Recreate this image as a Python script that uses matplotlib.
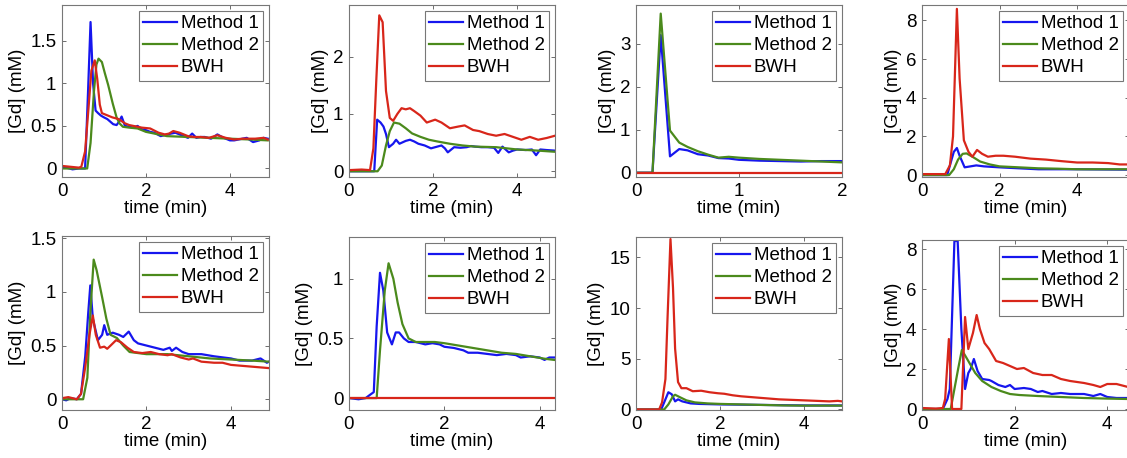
import matplotlib
matplotlib.use("Agg")
import matplotlib.pyplot as plt

plt.rcParams['font.family'] = ['Liberation Sans', 'DejaVu Sans']
FS = 13.5
plt.rcParams['font.size'] = FS

C_BLUE = '#1616ee'
C_GREEN = '#4b8a1c'
C_RED = '#d8261a'

# ---------------- Panel 1 ----------------
p1_m1_t = [0, 0.1, 0.25, 0.4, 0.55, 0.62, 0.68, 0.74, 0.8, 0.86, 0.93, 1.0, 1.08, 1.15, 1.22, 1.3, 1.36, 1.42, 1.5, 1.6, 1.7, 1.8, 1.9, 2.0, 2.1, 2.2, 2.35, 2.5, 2.6, 2.7, 2.8, 2.9, 3.0, 3.1, 3.2, 3.3, 3.4, 3.55, 3.7, 3.85, 4.0, 4.1, 4.2, 4.3, 4.4, 4.55, 4.7, 4.8, 4.9]
p1_m1_y = [0.02, 0.01, -0.01, 0.0, 0.0, 0.9, 1.72, 1.0, 0.68, 0.65, 0.62, 0.6, 0.58, 0.55, 0.52, 0.51, 0.55, 0.61, 0.5, 0.49, 0.48, 0.5, 0.46, 0.45, 0.43, 0.42, 0.38, 0.4, 0.41, 0.42, 0.4, 0.38, 0.36, 0.41, 0.36, 0.37, 0.37, 0.35, 0.4, 0.36, 0.33, 0.33, 0.34, 0.35, 0.36, 0.31, 0.33, 0.36, 0.35]
p1_m2_t = [0, 0.6, 0.68, 0.76, 0.82, 0.87, 0.95, 1.02, 1.1, 1.21, 1.3, 1.37, 1.45, 1.6, 1.8, 2.0, 2.3, 2.5, 3.0, 3.5, 4.0, 4.5, 4.9]
p1_m2_y = [0.0, 0.0, 0.3, 0.9, 1.22, 1.29, 1.25, 1.12, 0.98, 0.76, 0.6, 0.53, 0.49, 0.48, 0.47, 0.43, 0.4, 0.38, 0.37, 0.36, 0.35, 0.34, 0.33]
p1_bw_t = [0, 0.2, 0.4, 0.46, 0.55, 0.63, 0.7, 0.78, 0.84, 0.9, 0.95, 1.05, 1.2, 1.35, 1.5, 1.6, 1.7, 1.9, 2.1, 2.3, 2.45, 2.55, 2.65, 2.8, 2.9, 3.0, 3.15, 3.3, 3.5, 3.7, 3.9, 4.1, 4.3, 4.6, 4.8, 4.9]
p1_bw_y = [0.03, 0.02, 0.01, 0.02, 0.2, 0.7, 1.15, 1.27, 1.05, 0.75, 0.65, 0.63, 0.6, 0.58, 0.53, 0.51, 0.5, 0.48, 0.47, 0.42, 0.4, 0.41, 0.44, 0.42, 0.4, 0.38, 0.37, 0.37, 0.36, 0.39, 0.36, 0.34, 0.35, 0.35, 0.36, 0.34]

# ---------------- Panel 2 ----------------
p2_m1_t = [0, 0.3, 0.6, 0.67, 0.75, 0.82, 0.88, 0.95, 1.05, 1.12, 1.2, 1.35, 1.45, 1.55, 1.65, 1.8, 1.95, 2.1, 2.2, 2.28, 2.35, 2.5, 2.65, 2.8, 2.9, 3.0, 3.15, 3.3, 3.45, 3.55, 3.65, 3.8, 3.9, 4.0, 4.2, 4.35, 4.45, 4.55, 4.7, 4.9]
p2_m1_y = [0.0, 0.0, 0.0, 0.9, 0.85, 0.78, 0.65, 0.42, 0.48, 0.55, 0.48, 0.53, 0.55, 0.52, 0.48, 0.45, 0.4, 0.43, 0.45, 0.4, 0.33, 0.42, 0.41, 0.42, 0.44, 0.43, 0.42, 0.42, 0.41, 0.32, 0.43, 0.33, 0.36, 0.38, 0.37, 0.38, 0.28, 0.38, 0.37, 0.36]
p2_m2_t = [0, 0.68, 0.78, 0.88, 0.97, 1.07, 1.2, 1.35, 1.5, 1.7, 1.9, 2.1, 2.4, 2.7, 3.0, 3.5, 4.0, 4.5, 4.9]
p2_m2_y = [0.0, 0.0, 0.1, 0.45, 0.7, 0.85, 0.83, 0.75, 0.66, 0.6, 0.55, 0.52, 0.48, 0.45, 0.43, 0.42, 0.38, 0.36, 0.34]
p2_bw_t = [0, 0.3, 0.5, 0.58, 0.65, 0.72, 0.8, 0.88, 0.97, 1.05, 1.15, 1.25, 1.35, 1.45, 1.55, 1.7, 1.85, 2.05, 2.2, 2.4, 2.6, 2.75, 2.95, 3.1, 3.3, 3.5, 3.7, 3.9, 4.1, 4.3, 4.5, 4.7, 4.9]
p2_bw_y = [0.02, 0.03, 0.02, 0.4, 1.6, 2.72, 2.6, 1.4, 0.93, 0.88, 1.0, 1.1, 1.08, 1.1, 1.05, 0.97, 0.85, 0.9, 0.85, 0.75, 0.78, 0.8, 0.72, 0.7, 0.65, 0.62, 0.65, 0.6, 0.55, 0.6, 0.55, 0.58, 0.62]

# ---------------- Panel 3 ----------------
p3_m1_t = [0, 0.16, 0.24, 0.33, 0.42, 0.5, 0.6, 0.7, 0.8, 0.9, 1.0, 1.2, 1.4, 1.6, 1.8, 2.0]
p3_m1_y = [0.0, 0.0, 3.2, 0.38, 0.55, 0.52, 0.43, 0.4, 0.34, 0.33, 0.3, 0.28, 0.27, 0.26, 0.27, 0.27]
p3_m2_t = [0, 0.16, 0.24, 0.33, 0.42, 0.5, 0.6, 0.7, 0.8, 0.9, 1.0, 1.2, 1.4, 1.6, 1.8, 2.0]
p3_m2_y = [0.0, 0.0, 3.7, 0.98, 0.7, 0.6, 0.5, 0.42, 0.35, 0.37, 0.35, 0.32, 0.3, 0.28, 0.26, 0.24]
p3_bw_t = [0, 2.0]
p3_bw_y = [0.0, 0.0]

# ---------------- Panel 4 ----------------
p4_m1_t = [0, 0.65, 0.72, 0.82, 0.9, 0.97, 1.1, 1.25, 1.4, 1.6, 2.0, 2.5, 3.0, 4.0, 5.3]
p4_m1_y = [0.0, 0.0, 0.5, 1.2, 1.4, 1.0, 0.4, 0.45, 0.5, 0.45, 0.4, 0.35, 0.3, 0.3, 0.28]
p4_m2_t = [0, 0.7, 0.82, 0.93, 1.05, 1.15, 1.3, 1.5, 1.75, 2.0, 2.5, 3.0, 3.5, 4.0, 5.3]
p4_m2_y = [0.0, 0.0, 0.3, 0.8, 1.1, 1.12, 0.95, 0.7, 0.55, 0.45, 0.4, 0.35, 0.33, 0.3, 0.3]
p4_bw_t = [0, 0.6, 0.72, 0.8, 0.9, 0.97, 1.08, 1.2, 1.3, 1.42, 1.55, 1.7, 1.9, 2.1, 2.4, 2.8, 3.2, 3.6, 4.0, 4.4, 4.8, 5.1, 5.3]
p4_bw_y = [0.05, 0.05, 0.5, 2.0, 8.6, 5.0, 1.8, 1.2, 0.95, 1.3, 1.1, 0.95, 1.0, 1.0, 0.95, 0.85, 0.8, 0.72, 0.65, 0.65, 0.62, 0.55, 0.55]

# ---------------- Panel 5 ----------------
p5_m1_t = [0, 0.1, 0.2, 0.35, 0.45, 0.55, 0.62, 0.67, 0.73, 0.85, 0.95, 1.0, 1.07, 1.2, 1.35, 1.45, 1.58, 1.7, 1.8, 2.0, 2.2, 2.4, 2.55, 2.6, 2.7, 2.85, 3.0, 3.3, 3.6, 3.8, 4.0, 4.2, 4.5, 4.7, 4.85, 4.9]
p5_m1_y = [0.0, -0.01, 0.01, 0.0, 0.05, 0.4, 0.8, 1.06, 0.75, 0.55, 0.6, 0.69, 0.6, 0.62, 0.6, 0.58, 0.63, 0.55, 0.52, 0.5, 0.48, 0.46, 0.48, 0.45, 0.48, 0.44, 0.42, 0.42, 0.4, 0.39, 0.38, 0.36, 0.36, 0.38, 0.34, 0.35]
p5_m2_t = [0, 0.5, 0.6, 0.67, 0.75, 0.82, 0.95, 1.05, 1.15, 1.3, 1.45, 1.6, 1.8, 2.0, 2.5, 3.0, 3.5, 4.0, 4.5, 4.9]
p5_m2_y = [0.0, 0.0, 0.2, 0.8, 1.3, 1.2, 0.95, 0.75, 0.6, 0.57, 0.5, 0.44, 0.43, 0.42, 0.42, 0.4, 0.38, 0.37, 0.36, 0.35]
p5_bw_t = [0, 0.15, 0.35, 0.45, 0.55, 0.65, 0.73, 0.8, 0.9, 1.0, 1.07, 1.15, 1.28, 1.4, 1.55, 1.7, 1.9, 2.1, 2.3, 2.5, 2.6, 2.8, 3.0, 3.1, 3.3, 3.6, 3.8, 4.0, 4.3, 4.6, 4.9]
p5_bw_y = [0.01, 0.02, 0.0, 0.05, 0.3, 0.6, 0.78, 0.6, 0.48, 0.49, 0.47, 0.5, 0.55, 0.53, 0.48, 0.44, 0.43, 0.44, 0.42, 0.41, 0.42, 0.39, 0.37, 0.38, 0.35, 0.34, 0.34, 0.32, 0.31, 0.3, 0.29]

# ---------------- Panel 6 ----------------
p6_m1_t = [0, 0.2, 0.35, 0.45, 0.52, 0.58, 0.65, 0.72, 0.8, 0.9, 0.98, 1.05, 1.15, 1.25, 1.4, 1.6, 1.75, 1.9, 2.0, 2.2, 2.4, 2.5, 2.7, 2.9, 3.1, 3.3, 3.5, 3.6, 3.8, 4.0, 4.1, 4.2, 4.3]
p6_m1_y = [0.0, -0.01, 0.0, 0.03, 0.05, 0.6, 1.05, 0.9, 0.55, 0.45, 0.55, 0.55, 0.5, 0.47, 0.47, 0.45, 0.46, 0.45, 0.43, 0.42, 0.4, 0.38, 0.38, 0.37, 0.36, 0.37, 0.36, 0.34, 0.35, 0.34, 0.32, 0.34, 0.34]
p6_m2_t = [0, 0.58, 0.65, 0.75, 0.83, 0.93, 1.02, 1.12, 1.25, 1.4, 1.6, 1.8, 2.0, 2.3, 2.6, 2.9, 3.2, 3.5, 3.8, 4.1, 4.3]
p6_m2_y = [0.0, 0.0, 0.4, 0.9, 1.13, 1.0, 0.8, 0.62, 0.5, 0.47, 0.47, 0.47, 0.46, 0.44, 0.42, 0.4, 0.38, 0.37, 0.35, 0.33, 0.32]
p6_bw_t = [0, 4.3]
p6_bw_y = [0.0, 0.0]

# ---------------- Panel 7 ----------------
p7_m1_t = [0, 0.6, 0.7, 0.77, 0.85, 0.93, 1.0, 1.1, 1.3, 1.5, 2.0, 3.0, 4.0, 4.9]
p7_m1_y = [0.0, 0.0, 1.0, 1.7, 1.5, 0.8, 1.0, 0.8, 0.6, 0.55, 0.5, 0.45, 0.4, 0.4]
p7_m2_t = [0, 0.67, 0.77, 0.88, 0.93, 1.05, 1.2, 1.4, 1.7, 2.0, 2.5, 3.0, 3.5, 4.0, 4.9]
p7_m2_y = [0.0, 0.0, 0.5, 1.3, 1.45, 1.2, 0.9, 0.7, 0.6, 0.55, 0.5, 0.45, 0.4, 0.38, 0.38]
p7_bw_t = [0, 0.55, 0.62, 0.7, 0.75, 0.82, 0.88, 0.93, 1.0, 1.08, 1.2, 1.35, 1.55, 1.75, 1.95, 2.1, 2.3, 2.5, 2.8, 3.1, 3.4, 3.7, 4.0, 4.3, 4.6, 4.8, 4.9]
p7_bw_y = [0.0, 0.0, 0.7, 3.0, 9.0, 16.8, 12.0, 6.0, 2.7, 2.1, 2.1, 1.8, 1.85, 1.7, 1.6, 1.55, 1.4, 1.3, 1.2, 1.1, 1.0, 0.95, 0.9, 0.85, 0.8, 0.85, 0.8]

# ---------------- Panel 8 ----------------
p8_m1_t = [0, 0.45, 0.55, 0.6, 0.7, 0.77, 0.85, 0.93, 1.0, 1.05, 1.12, 1.2, 1.3, 1.45, 1.5, 1.65, 1.8, 1.9, 2.0, 2.2, 2.35, 2.5, 2.6, 2.8, 3.0, 3.2, 3.5, 3.7, 3.85, 4.0, 4.2, 4.45]
p8_m1_y = [0.0, 0.0, 0.5, 1.0, 8.4, 8.4, 4.0, 1.0, 1.8, 2.0, 2.5, 1.9, 1.5, 1.45, 1.4, 1.2, 1.1, 1.2, 1.0, 1.05, 1.0, 0.85, 0.9, 0.75, 0.8, 0.75, 0.75, 0.65, 0.75, 0.6, 0.55, 0.55]
p8_m2_t = [0, 0.62, 0.7, 0.78, 0.86, 0.95, 1.05, 1.15, 1.3, 1.5, 1.7, 1.9, 2.1, 2.5, 3.0, 3.5, 4.0, 4.45]
p8_m2_y = [0.0, 0.0, 1.0, 2.0, 2.95, 2.6, 2.2, 1.8, 1.4, 1.1, 0.9, 0.75, 0.7, 0.65, 0.6, 0.55, 0.52, 0.5]
p8_bw_t = [0, 0.3, 0.45, 0.5, 0.58, 0.65, 0.85, 0.93, 1.0, 1.1, 1.18, 1.25, 1.35, 1.45, 1.6, 1.75, 1.95, 2.05, 2.2, 2.4, 2.6, 2.8, 3.0, 3.2, 3.5, 3.7, 3.85, 4.0, 4.2, 4.45]
p8_bw_y = [0.05, 0.02, 0.05, 0.5, 3.5, 0.0, 0.0, 4.6, 3.0, 3.8, 4.7, 4.0, 3.3, 3.0, 2.4, 2.3, 2.1, 2.0, 2.05, 1.8, 1.7, 1.7, 1.5, 1.4, 1.3, 1.2, 1.1, 1.25, 1.25, 1.1]

labels = ['Method 1', 'Method 2', 'BWH']

panels = [
    (p1_m1_t, p1_m1_y, p1_m2_t, p1_m2_y, p1_bw_t, p1_bw_y),
    (p2_m1_t, p2_m1_y, p2_m2_t, p2_m2_y, p2_bw_t, p2_bw_y),
    (p3_m1_t, p3_m1_y, p3_m2_t, p3_m2_y, p3_bw_t, p3_bw_y),
    (p4_m1_t, p4_m1_y, p4_m2_t, p4_m2_y, p4_bw_t, p4_bw_y),
    (p5_m1_t, p5_m1_y, p5_m2_t, p5_m2_y, p5_bw_t, p5_bw_y),
    (p6_m1_t, p6_m1_y, p6_m2_t, p6_m2_y, p6_bw_t, p6_bw_y),
    (p7_m1_t, p7_m1_y, p7_m2_t, p7_m2_y, p7_bw_t, p7_bw_y),
    (p8_m1_t, p8_m1_y, p8_m2_t, p8_m2_y, p8_bw_t, p8_bw_y),
]

xlims = [(0, 4.93), (0, 4.9), (0, 2.0), (0, 5.34), (0, 4.9), (0, 4.32), (0, 4.9), (0, 4.47)]
ylims = [(-0.1, 1.92), (-0.1, 2.9), (-0.1, 3.9), (-0.1, 8.8), (-0.1, 1.52), (-0.1, 1.35), (-0.05, 17.0), (-0.05, 8.45)]
xticks = [[0, 2, 4], [0, 2, 4], [0, 1, 2], [0, 2, 4], [0, 2, 4], [0, 2, 4], [0, 2, 4], [0, 2, 4]]
yticks = [[0, 0.5, 1, 1.5], [0, 1, 2], [0, 1, 2, 3], [0, 2, 4, 6, 8], [0, 0.5, 1, 1.5], [0, 0.5, 1], [0, 5, 10, 15], [0, 2, 4, 6, 8]]

W, H = 1127, 458
# axes boxes in pixels: left, top, right, bottom
boxes = [
    (62, 5, 269, 177), (349, 5, 555, 177), (636, 5, 842, 177), (922, 5, 1129, 177),
    (62, 236, 269, 410), (349, 237, 555, 410), (636, 237, 842, 410), (922, 240, 1129, 410),
]

fig = plt.figure(figsize=(W / 100, H / 100), dpi=100)

def fmt(v):
    if float(v).is_integer():
        return str(int(v))
    return str(v)

for i, (box, data) in enumerate(zip(boxes, panels)):
    l, t, r, b = box
    ax = fig.add_axes([l / W, (H - b) / H, (r - l) / W, (b - t) / H])
    m1t, m1y, m2t, m2y, bwt, bwy = data
    ax.plot(m1t, m1y, color=C_BLUE, lw=1.6, label=labels[0])
    ax.plot(m2t, m2y, color=C_GREEN, lw=1.6, label=labels[1])
    ax.plot(bwt, bwy, color=C_RED, lw=1.6, label=labels[2])
    ax.set_xlim(*xlims[i])
    ax.set_ylim(*ylims[i])
    ax.set_xticks(xticks[i])
    ax.set_yticks(yticks[i])
    ax.set_xticklabels([fmt(v) for v in xticks[i]])
    ax.set_yticklabels([fmt(v) for v in yticks[i]])
    ax.tick_params(direction='in', length=3, width=0.6, top=True, right=True,
                   color='#555555', labelsize=FS, pad=4)
    for s in ax.spines.values():
        s.set_color('#777777')
        s.set_linewidth(0.8)
    ax.set_xlabel('time (min)', fontsize=FS, labelpad=0)
    ax.set_ylabel('[Gd] (mM)', fontsize=FS, labelpad=3)
    leg = ax.legend(loc='upper right', fontsize=FS, fancybox=False, framealpha=1,
                    edgecolor='#777777', handlelength=1.8, handletextpad=0.2,
                    labelspacing=0.25, borderpad=0.25, borderaxespad=0.3)
    leg.get_frame().set_linewidth(0.8)

fig.savefig('out.png', dpi=100)
